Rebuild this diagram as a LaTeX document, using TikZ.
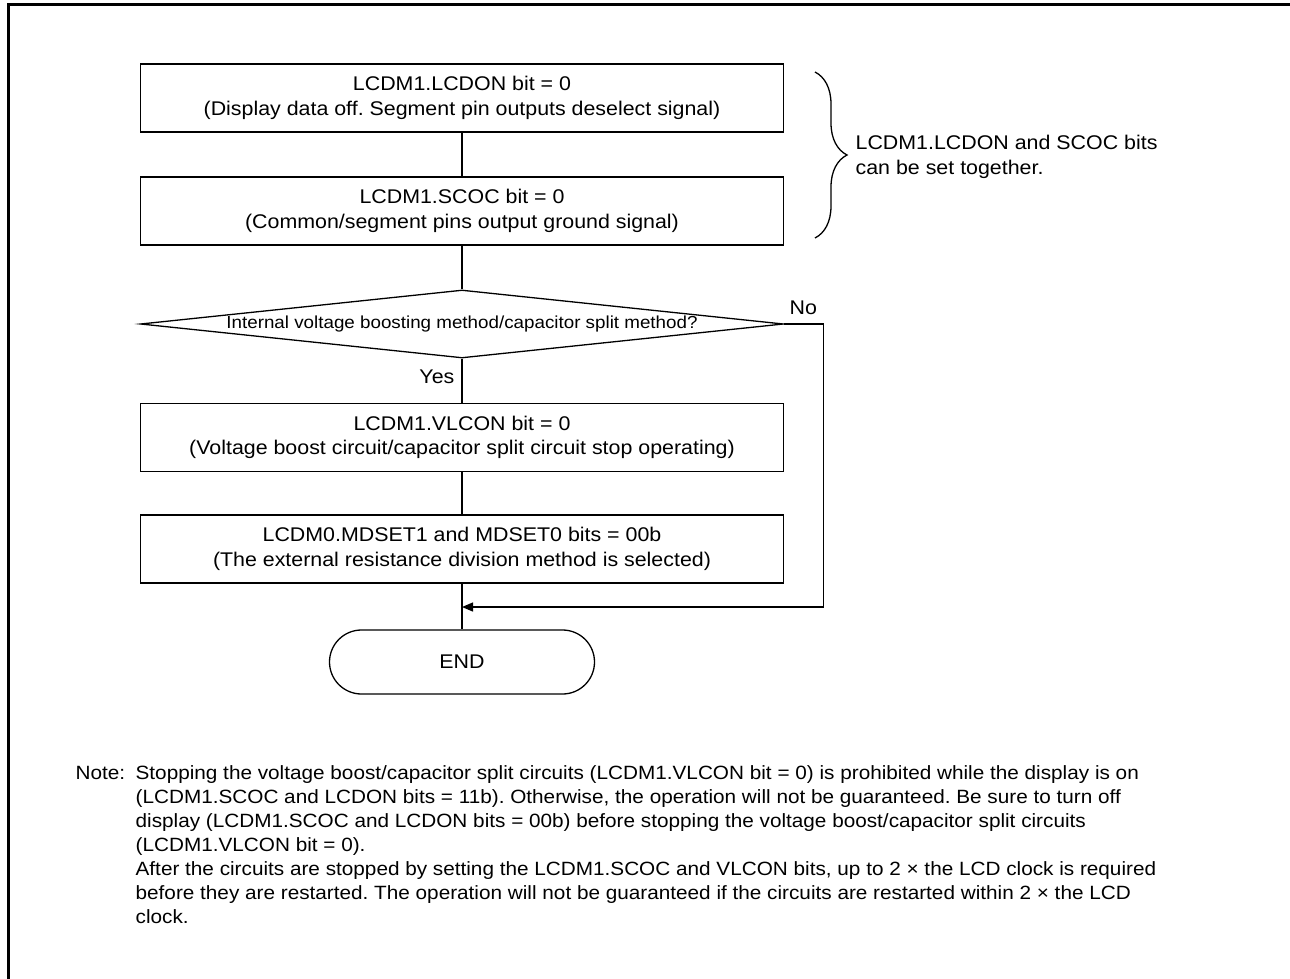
\documentclass[tikz,border=0pt]{standalone}
\usepackage{fontspec}
\setmainfont{Liberation Sans}[FakeStretch=1.08]
\usetikzlibrary{arrows.meta,shapes.geometric,shapes.misc,decorations.pathreplacing}
\frenchspacing
\begin{document}
\begin{tikzpicture}[x=1pt,y=-1pt,
  line width=1.3pt,
  boxtxt/.style={font=\fontsize{19.8}{24.5}\selectfont},
  proc/.style={draw, boxtxt, minimum width=643pt, minimum height=68pt, inner sep=0pt, align=center},
  decide/.style={draw, diamond, minimum width=643pt, minimum height=68pt, inner sep=0pt},
  term/.style={draw, rounded rectangle, boxtxt, minimum width=265pt, minimum height=64pt, inner sep=0pt},
  lbl/.style={boxtxt, inner sep=0pt},
  notetxt/.style={font=\fontsize{19.2}{24}\selectfont, inner sep=0pt, anchor=base west},
  arr/.style={-{Triangle[length=11pt,width=9pt]}}
]
\useasboundingbox (0,0) rectangle (1290,979);
% frame
\draw[line width=3pt] (8,979) -- (8,5) -- (1290,5);

\node[proc] (b1) at (462,98) {LCDM1.LCDON bit = 0\\(Display data off. Segment pin outputs deselect signal)};
\node[proc] (b2) at (462,211) {LCDM1.SCOC bit = 0\\(Common/segment pins output ground signal)};
\node[decide] (dec) at (462,324) {};
\node[font=\fontsize{17.4}{20}\selectfont, inner sep=0pt] (dtxt) at (dec.center) {Internal voltage boosting method/capacitor split method?};
\node[proc] (b3) at (462,437.5) {LCDM1.VLCON bit = 0\\(Voltage boost circuit/capacitor split circuit stop operating)};
\node[proc] (b4) at (462,549) {LCDM0.MDSET1 and MDSET0 bits = 00b\\(The external resistance division method is selected)};
\node[term] (end) at (462,662) {END};

\coordinate (join) at (462,607);
\draw (b1.south) -- (b2.north);
\draw (b2.south) -- (dec.north);
\draw (dec.south) -- (b3.north);
\draw (b3.south) -- (b4.north);
\draw (b4.south) -- (end.north);
\draw[arr] (dec.east) -- ++(39,0) |- (join);

\node[lbl, anchor=east] (yes) at (455,377) {Yes};
\node[lbl, anchor=west] (no) at (789,308) {No};

% brace
\coordinate (bt) at (815,72);
\coordinate (bb) at (815,238);
\draw[decorate, decoration={brace, amplitude=32pt}] (bt) -- (bb);
\node[lbl, anchor=west, align=left] (bnote) at (855,157) {LCDM1.LCDON and SCOC bits\\can be set together.};

% note
\node[notetxt] (note) at (75,779) {Note:};
\node[notetxt] (n1) at (135,779) {Stopping the voltage boost/capacitor split circuits (LCDM1.VLCON bit = 0) is prohibited while the display is on};
\node[notetxt] (n2) at (135,803) {(LCDM1.SCOC and LCDON bits = 11b). Otherwise, the operation will not be guaranteed. Be sure to turn off};
\node[notetxt] (n3) at (135,827) {display (LCDM1.SCOC and LCDON bits = 00b) before stopping the voltage boost/capacitor split circuits};
\node[notetxt] (n4) at (135,851) {(LCDM1.VLCON bit = 0).};
\node[notetxt] (n5) at (135,875) {After the circuits are stopped by setting the LCDM1.SCOC and VLCON bits, up to 2 × the LCD clock is required};
\node[notetxt] (n6) at (135,899) {before they are restarted. The operation will not be guaranteed if the circuits are restarted within 2 × the LCD};
\node[notetxt] (n7) at (135,923) {clock.};
\end{tikzpicture}
\end{document}
